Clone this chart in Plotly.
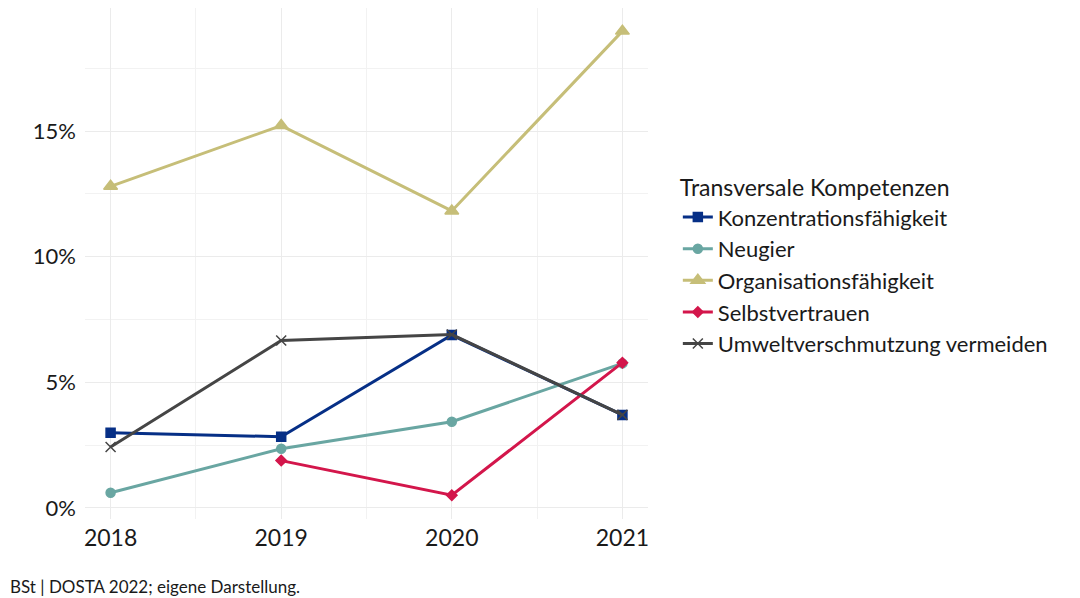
import plotly.graph_objects as go

years = [2018, 2019, 2020, 2021]
konzentration = [2.99, 2.83, 6.88, 3.70]
neugier = [0.60, 2.35, 3.43, 5.75]
organisation = [12.80, 15.22, 11.82, 18.98]
selbstvertrauen_years = [2019, 2020, 2021]
selbstvertrauen = [1.88, 0.50, 5.78]
umwelt = [2.42, 6.66, 6.90, 3.70]

series = [
    ("Konzentrationsfähigkeit", years, konzentration, "#062f86", "square", 9),
    ("Neugier", years, neugier, "#69a6a2", "circle", 9),
    ("Organisationsfähigkeit", years, organisation, "#c6be78", "triangle-up", 12),
    ("Selbstvertrauen", selbstvertrauen_years, selbstvertrauen, "#d3164b", "diamond", 8),
    ("Umweltverschmutzung vermeiden", years, umwelt, "#454545", "x-thin-open", 10),
]

fig = go.Figure()
for name, xs, ys, color, sym, size in series:
    fig.add_trace(go.Scatter(
        x=xs, y=ys, name=name, mode="lines+markers",
        line=dict(color=color, width=3),
        marker=dict(symbol=sym, size=size, color=color,
                    line=dict(color=color, width=1.5)),
    ))

font = "Lato, 'Open Sans', sans-serif"
fig.update_layout(
    width=1072, height=590,
    margin=dict(l=77, r=432, t=0, b=79),
    paper_bgcolor="white", plot_bgcolor="white",
    font=dict(family=font, size=22, color="#1a1a1a"),
    showlegend=True,
    legend=dict(
        title=dict(text="Transversale Kompetenzen", font=dict(size=23, color="#1a1a1a")),
        x=1.053, xanchor="left", y=0.69, yanchor="top",
        font=dict(size=22, color="#1a1a1a"),
        tracegroupgap=0, itemwidth=30,
        bgcolor="rgba(0,0,0,0)",
    ),
    xaxis=dict(
        range=[2017.85, 2021.15], tickmode="array", tickvals=years,
        ticktext=[str(y) for y in years],
        showgrid=True, gridcolor="#ebebeb", gridwidth=1.2,
        minor=dict(tickmode="array", tickvals=[2018.5, 2019.5, 2020.5],
                   showgrid=True, gridcolor="#f2f2f2", gridwidth=0.8),
        zeroline=False, showline=False, ticks="", ticklabelstandoff=3,
        tickfont=dict(size=23, color="#1a1a1a"),
    ),
    yaxis=dict(
        range=[-0.445, 19.9], tickmode="array", tickvals=[0, 5, 10, 15],
        ticktext=["0%", "5%", "10%", "15%"],
        showgrid=True, gridcolor="#ebebeb", gridwidth=1.2,
        minor=dict(tickmode="array", tickvals=[2.5, 7.5, 12.5, 17.5],
                   showgrid=True, gridcolor="#f2f2f2", gridwidth=0.8),
        zeroline=False, showline=False, ticks="", ticklabelstandoff=8,
        tickfont=dict(size=22, color="#1a1a1a"),
    ),
    annotations=[dict(
        text="BSt | DOSTA 2022; eigene Darstellung.",
        xref="paper", yref="paper", x=-0.136, y=-0.133,
        xanchor="left", yanchor="middle", showarrow=False,
        font=dict(size=17, color="#1a1a1a"),
    )],
)

fig.write_html("out.html")
